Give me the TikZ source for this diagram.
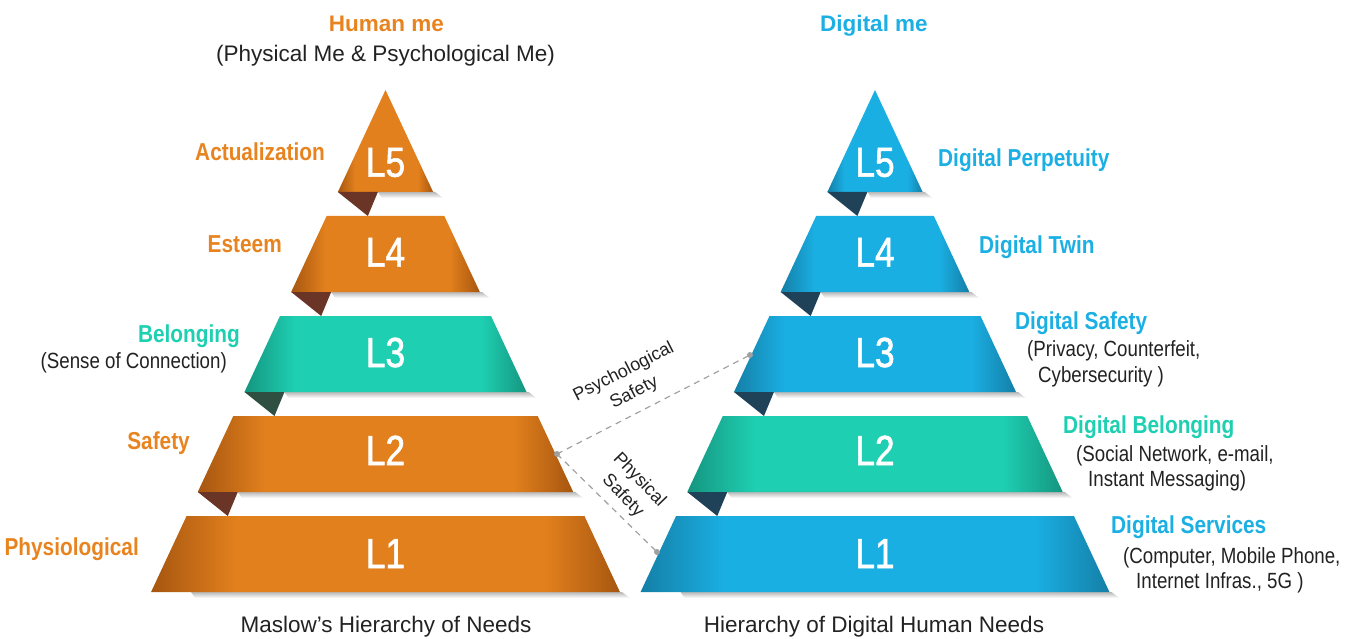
\documentclass[tikz,border=0pt]{standalone}
\usepackage{fontspec}
\setmainfont{Liberation Sans}
\newfontfamily\condf[FakeStretch=0.85]{Liberation Sans}
\newfontfamily\lvlf[FakeStretch=0.84,FakeBold=1.4]{Liberation Sans}
\definecolor{oM}{HTML}{E2801D}
\definecolor{oD}{HTML}{A65610}
\definecolor{tM}{HTML}{1ECFB2}
\definecolor{tD}{HTML}{15957F}
\definecolor{bM}{HTML}{1AAFE3}
\definecolor{bD}{HTML}{147FA6}
\definecolor{foldO}{HTML}{6A3426}
\definecolor{foldG}{HTML}{2E4F41}
\definecolor{foldB}{HTML}{1F4259}
\definecolor{txO}{HTML}{E8841F}
\definecolor{txT}{HTML}{1ECFB1}
\definecolor{txB}{HTML}{1BAFE3}
\definecolor{txt}{HTML}{222222}
\definecolor{dashc}{HTML}{A0A0A0}
\pgfdeclarehorizontalshading{shO}{100bp}{color(0bp)=(oD); color(25bp)=(oD); color(34bp)=(oM); color(67bp)=(oM); color(75bp)=(oD); color(100bp)=(oD)}
\pgfdeclarehorizontalshading{shT}{100bp}{color(0bp)=(tD); color(25bp)=(tD); color(34bp)=(tM); color(67bp)=(tM); color(75bp)=(tD); color(100bp)=(tD)}
\pgfdeclarehorizontalshading{shB}{100bp}{color(0bp)=(bD); color(25bp)=(bD); color(34bp)=(bM); color(67bp)=(bM); color(75bp)=(bD); color(100bp)=(bD)}
% band: #1 centre x, #2 top y, #3 bottom y, #4 shading
\newcommand\pyrband[4]{%
  \pgfmathsetmacro\bandTL{#1-(#2-90)*0.467}%
  \pgfmathsetmacro\bandTR{#1+(#2-90)*0.467}%
  \pgfmathsetmacro\bandBL{#1-(#3-90)*0.467}%
  \pgfmathsetmacro\bandBR{#1+(#3-90)*0.467}%
  \shade[top color=black!28, bottom color=white] (\bandBL+40,#3) -- (\bandBR+2,#3) -- (\bandBR+10,#3+6) -- (\bandBL+44,#3+6) -- cycle;
  \shade[shading=#4] (\bandTL,#2) -- (\bandTR,#2) -- (\bandBR,#3) -- (\bandBL,#3) -- cycle;
}
% fold under a band: #1 centre x, #2 bottom y, #3 colour
\newcommand\pyrfold[3]{%
  \pgfmathsetmacro\bandBL{#1-(#2-90)*0.467}%
  \fill[#3] (\bandBL,#2) -- (\bandBL+40,#2) -- (\bandBL+30,#2+24) -- cycle;
}
% top triangle: #1 centre x, #2 shading
\newcommand\pyrtop[2]{%
  \pgfmathsetmacro\bandBL{#1-(192-90)*0.467}%
  \pgfmathsetmacro\bandBR{#1+(192-90)*0.467}%
  \shade[top color=black!28, bottom color=white] (\bandBL+40,192) -- (\bandBR+2,192) -- (\bandBR+10,198) -- (\bandBL+44,198) -- cycle;
  \shade[shading=#2] (#1,90) -- (\bandBR,192) -- (\bandBL,192) -- cycle;
}
\begin{document}
\begin{tikzpicture}[x=1pt,y=-1pt,
  lvl/.style={font=\lvlf\fontsize{42}{46}\selectfont, text=white, anchor=base, inner sep=0pt},
  hdl/.style={font=\condf\bfseries\fontsize{24.5}{28}\selectfont, inner sep=0pt, anchor=base east},
  hdr/.style={font=\condf\bfseries\fontsize{24.5}{28}\selectfont, inner sep=0pt, anchor=base west},
  descl/.style={font=\condf\fontsize{22}{26}\selectfont, text=txt, inner sep=0pt, anchor=base east},
  descr/.style={font=\condf\fontsize{22}{26}\selectfont, text=txt, inner sep=0pt, anchor=base west},
  ttl/.style={font=\bfseries\fontsize{22.5}{26}\selectfont, inner sep=0pt, anchor=base},
  sub/.style={font=\fontsize{22.5}{26}\selectfont, text=txt, inner sep=0pt, anchor=base},
  rotl/.style={font=\fontsize{18}{23}\selectfont, text=txt, align=center, inner sep=0pt},
  conn/.style={dashc, line width=1.2pt, dash pattern=on 6pt off 5pt},
  dot/.style={circle, fill=dashc, inner sep=0pt, minimum size=6pt}
]
\useasboundingbox (0,0) rectangle (1360,639);

% ---------- left pyramid ----------
\pyrtop{385.5}{shO}
\pyrfold{385.5}{192}{foldO}
\pyrband{385.5}{216}{292}{shO}
\pyrfold{385.5}{292}{foldO}
\pyrband{385.5}{316}{392}{shT}
\pyrfold{385.5}{392}{foldG}
\pyrband{385.5}{416}{492}{shO}
\pyrfold{385.5}{492}{foldO}
\pyrband{385.5}{516}{592}{shO}

% ---------- right pyramid ----------
\pyrtop{875}{shB}
\pyrfold{875}{192}{foldB}
\pyrband{875}{216}{292}{shB}
\pyrfold{875}{292}{foldB}
\pyrband{875}{316}{392}{shB}
\pyrfold{875}{392}{foldB}
\pyrband{875}{416}{492}{shT}
\pyrfold{875}{492}{foldB}
\pyrband{875}{516}{592}{shB}

% level numbers
\node[lvl] (hL5) at (385.5,176.7) {L5};
\node[lvl] (hL4) at (385.5,266.7) {L4};
\node[lvl] (hL3) at (385.5,367) {L3};
\node[lvl] (hL2) at (385.5,465) {L2};
\node[lvl] (hL1) at (385.5,568) {L1};
\node[lvl] (dL5) at (875,176.7) {L5};
\node[lvl] (dL4) at (875,266.7) {L4};
\node[lvl] (dL3) at (875,367) {L3};
\node[lvl] (dL2) at (875,465) {L2};
\node[lvl] (dL1) at (875,568) {L1};

% titles
\node[ttl, text=txO] (thuman) at (386.5,31.7) {Human me};
\node[sub] (thsub) at (385.5,61.7) {(Physical Me \& Psychological Me)};
\node[ttl, text=txB] (tdigital) at (874,31.7) {Digital me};
\node[sub] (cmaslow) at (386,632) {Maslow’s Hierarchy of Needs};
\node[sub] (cdigital) at (874,632) {Hierarchy of Digital Human Needs};

% left labels
\node[hdl, text=txO] (nact) at (325,161) {Actualization};
\node[hdl, text=txO] (nest) at (282,252) {Esteem};
\node[hdl, text=txT] (nbel) at (240,342) {Belonging};
\node[descl] (nbeld) at (227,368) {(Sense of Connection)};
\node[hdl, text=txO] (nsaf) at (190,449) {Safety};
\node[hdl, text=txO] (nphy) at (139,555) {Physiological};

% right labels
\node[hdr, text=txB] (rper) at (938,166.5) {Digital Perpetuity};
\node[hdr, text=txB] (rtwin) at (979,254) {Digital Twin};
\node[hdr, text=txB] (rsaf) at (1015,329) {Digital Safety};
\node[descr] (rsafa) at (1027,356.5) {(Privacy, Counterfeit,};
\node[descr] (rsafb) at (1038,382) {Cybersecurity )};
\node[hdr, text=txT] (rbel) at (1063,433) {Digital Belonging};
\node[descr] (rbela) at (1076,461.5) {(Social Network, e-mail,};
\node[descr] (rbelb) at (1088,486.5) {Instant Messaging)};
\node[hdr, text=txB] (rsrv) at (1111,533) {Digital Services};
\node[descr] (rsrva) at (1123,563) {(Computer, Mobile Phone,};
\node[descr] (rsrvb) at (1136,588) {Internet Infras., 5G )};

% connectors
\coordinate (pL2) at (557,454);
\coordinate (pR3) at (750,355);
\coordinate (pR1) at (657,552);
\draw[conn] (pL2) -- (pR3);
\draw[conn] (pL2) -- (pR1);
\node[dot] (dL2p) at (pL2) {};
\node[dot] (dR3p) at (pR3) {};
\node[dot] (dR1p) at (pR1) {};
\node[rotl, rotate=27] (psy) at (629,382.5) {Psychological\\Safety};
\node[rotl, rotate=-46] (phy) at (631,488) {Physical\\Safety};
\end{tikzpicture}
\end{document}
